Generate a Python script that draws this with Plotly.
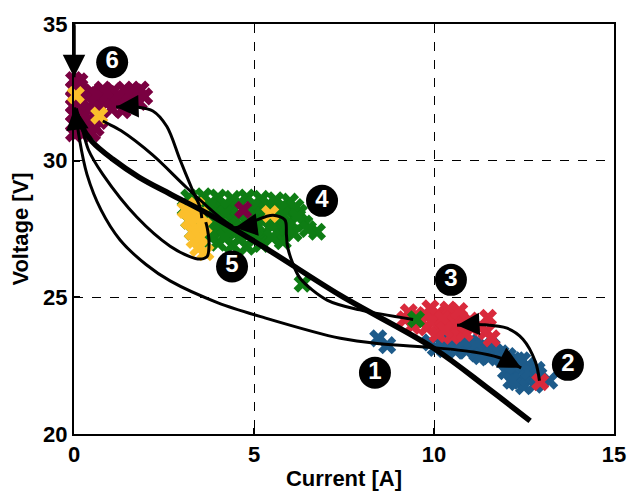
import plotly.graph_objects as go

# ---------------- data (Current [A], Voltage [V]) ----------------
blue_I = [8.45, 8.7, 9.9, 10.2, 10.5, 10.7, 11.0, 10.9, 11.4, 11.7, 11.5, 11.9, 12.1, 12.3,
          12.0, 12.2, 12.4, 12.6, 12.3, 12.5, 12.7, 12.8, 12.6, 13.2, 12.85, 10.3, 11.2,
          10.05, 10.6, 11.15, 11.6, 11.85, 12.05, 12.45, 12.65, 12.15, 12.9, 11.3, 10.8]
blue_V = [23.5, 23.25, 23.35, 23.3, 23.45, 23.2, 23.35, 23.05, 23.15, 23.0, 22.8, 22.75, 22.55, 22.7,
          22.3, 22.2, 22.35, 22.5, 21.9, 21.75, 22.1, 21.8, 22.05, 21.95, 22.35, 23.1, 22.95,
          23.15, 23.05, 23.25, 23.2, 22.95, 22.85, 22.7, 22.3, 21.95, 22.15, 22.85, 23.4]

red_I = [9.2, 9.5, 9.8, 10.1, 10.4, 10.7, 11.0, 9.4, 9.8, 10.2, 10.5, 10.8, 10.1, 10.5,
         9.9, 10.4, 11.5, 11.45, 11.6, 11.3, 10.85, 9.65, 9.95, 10.25, 10.6, 10.9, 9.3, 10.7, 10.3]
red_V = [24.2, 24.35, 24.3, 24.4, 24.3, 24.25, 24.15, 23.95, 23.9, 24.0, 23.9, 23.85, 23.65, 23.6,
         24.6, 24.55, 24.25, 23.75, 23.5, 23.9, 23.7, 24.1, 24.15, 24.2, 24.1, 24.0, 24.45, 24.5, 23.8]

green_I = [3.2, 3.6, 4.0, 4.4, 4.8, 5.2, 5.6, 6.0,
           3.1, 3.5, 3.9, 4.3, 5.1, 5.5, 5.9, 6.25,
           3.2, 3.6, 4.0, 4.4, 4.8, 5.2, 5.6, 6.0, 6.4,
           3.3, 3.7, 4.1, 4.5, 4.9, 5.3, 5.7, 6.1,
           3.6, 4.0, 4.4, 4.8, 5.2, 5.8, 6.75, 6.35,
           3.4, 3.8, 4.2, 4.6, 5.0, 5.4, 5.8, 6.15,
           3.4, 3.8, 4.2, 4.6, 5.0, 5.4, 5.8, 6.2,
           3.5, 3.9, 4.3, 4.7, 5.1, 5.5, 5.9, 6.5,
           3.8, 4.2, 4.6, 5.0, 5.5]
green_V = [28.65, 28.7, 28.65, 28.6, 28.65, 28.6, 28.55, 28.5,
           28.25, 28.2, 28.25, 28.2, 28.25, 28.2, 28.2, 28.1,
           27.8, 27.8, 27.85, 27.8, 27.8, 27.85, 27.8, 27.75, 27.7,
           27.4, 27.4, 27.45, 27.4, 27.4, 27.35, 27.4, 27.35,
           27.05, 27.0, 26.9, 26.85, 26.95, 27.05, 27.4, 25.5,
           28.45, 28.45, 28.4, 28.45, 28.4, 28.4, 28.35, 28.3,
           28.0, 28.0, 28.05, 28.0, 28.0, 28.05, 28.0, 27.95,
           27.6, 27.6, 27.6, 27.55, 27.6, 27.6, 27.55, 27.5,
           27.2, 27.2, 27.15, 27.15, 27.2]

maroon_I = [0.0, 0.0, 0.0, 0.0, 0.0, 0.0, 0.0, 0.15, 0.15, 0.15, 0.15, 0.15, 0.15, 0.15,
            0.5, 0.8, 1.1, 1.4, 1.7, 1.95, 0.6, 0.9, 1.2, 1.5, 1.8,
            0.45, 0.75, 1.05, 1.35, 0.45, 0.6, 0.5,
            0.35, 0.65, 0.95, 1.25, 1.55, 1.85, 0.55, 0.7, 0.4]
maroon_V = [31.0, 31.35, 31.7, 32.0, 32.3, 32.6, 32.95, 31.1, 31.45, 31.8, 32.1, 32.4, 32.7, 32.9,
            32.5, 32.6, 32.55, 32.6, 32.5, 32.35, 32.2, 32.2, 32.3, 32.25, 32.15,
            31.9, 31.9, 31.9, 31.85, 31.5, 31.2, 31.0,
            32.35, 32.4, 32.45, 32.4, 32.45, 32.6, 31.7, 31.45, 31.3]

yellow_I = [3.1, 3.2, 3.3, 3.35, 3.5, 3.6, 3.5, 3.4, 3.45, 3.65, 5.45, 0.05, 0.7]
yellow_V = [28.2, 27.8, 27.4, 27.1, 28.0, 27.6, 27.2, 28.35, 26.8, 26.65, 28.05, 32.4, 31.65]

# single markers drawn on top of other clusters
over_maroon_I, over_maroon_V = [4.7], [28.2]
over_green_I, over_green_V = [9.5], [24.2]
over_red_I, over_red_V = [12.95], [21.9]

# thick reference curve
thick_I = [0.03, 0.17, 0.5, 1.08, 1.8, 2.67, 3.8, 5.44, 7.4, 10.0, 11.47, 12.67]
thick_V = [31.9, 31.36, 30.7, 30.05, 29.4, 28.78, 28.0, 26.7, 25.07, 23.13, 21.7, 20.48]

# trajectories (the last point of each is the arrow tip)
traj_1_I = [0.05, 0.15, 0.36, 0.75, 1.28, 2.0, 2.67, 4.0, 5.3, 7.4, 8.5, 10.0, 11.1, 11.8, 12.2, 12.42]
traj_1_V = [31.8, 30.8, 29.5, 28.2, 27.1, 26.2, 25.6, 24.8, 24.25, 23.5, 23.3, 23.16, 23.0, 22.8, 22.57, 22.42]

traj_2_I = [12.93, 12.82, 12.47, 12.03, 11.36, 10.9, 10.64]
traj_2_V = [21.95, 22.63, 23.47, 23.87, 24.0, 24.0, 23.98]

traj_3a_I = [9.42, 7.94, 7.03, 6.28, 6.06, 5.95, 5.92]
traj_3a_V = [24.19, 24.54, 24.9, 25.7, 26.3, 26.75, 26.95]

traj_3b_I = [5.92, 5.9, 5.86, 5.53, 5.08, 4.75, 4.47]
traj_3b_V = [26.95, 27.3, 27.83, 28.0, 27.83, 27.6, 27.55]

traj_5_I = [0.1, 0.17, 0.4, 0.8, 1.75, 2.67, 3.2, 3.5, 3.7, 3.75, 3.7, 3.66]
traj_5_V = [31.7, 31.47, 30.4, 29.5, 27.93, 26.87, 26.5, 26.4, 26.5, 27.0, 27.55, 27.75]

traj_g_I = [4.4, 4.14, 3.14, 2.19, 1.3, 0.95, 0.8]
traj_g_V = [27.6, 27.83, 29.0, 30.2, 31.1, 31.35, 31.45]

traj_loop_I = [3.55, 3.5, 3.3, 2.94, 2.58, 2.19, 1.75, 1.4, 1.17]
traj_loop_V = [27.9, 28.3, 28.9, 30.05, 31.25, 31.82, 31.96, 31.97, 31.96]

traj_top_I = [0.0, 0.0]
traj_top_V = [35.0, 33.05]

traj_up_I = [0.09, 0.02]
traj_up_V = [31.2, 31.95]

label_I = [8.36, 13.72, 10.47, 6.89, 4.39, 1.06]
label_V = [22.24, 22.53, 25.64, 28.53, 26.13, 33.6]
label_text = ["1", "2", "3", "4", "5", "6"]

x_ticks = [0, 5, 10, 15]
y_ticks = [20, 25, 30, 35]

# ---------------- figure ----------------
BLUE = "#1d5b8a"
RED = "#d92a3c"
GREEN = "#0e7d14"
YELLOW = "#fbbf2c"
MAROON = "#7a0041"

fig = go.Figure()

def xs(I, V, color):
    fig.add_trace(go.Scatter(x=I, y=V, mode="markers", cliponaxis=False,
                             marker=dict(symbol="x", size=16, color=color, line=dict(width=0)),
                             showlegend=False, hoverinfo="skip"))

xs(blue_I, blue_V, BLUE)
xs(red_I, red_V, RED)
xs(green_I, green_V, GREEN)
xs(maroon_I, maroon_V, MAROON)
xs(yellow_I, yellow_V, YELLOW)
xs(over_maroon_I, over_maroon_V, MAROON)
xs(over_green_I, over_green_V, GREEN)
xs(over_red_I, over_red_V, RED)

fig.add_trace(go.Scatter(x=thick_I, y=thick_V, mode="lines", line=dict(color="black", width=5.5, shape="spline"),
                         showlegend=False, hoverinfo="skip"))

trajs = [(traj_1_I, traj_1_V), (traj_2_I, traj_2_V), (traj_3a_I, traj_3a_V), (traj_3b_I, traj_3b_V),
         (traj_5_I, traj_5_V), (traj_g_I, traj_g_V), (traj_loop_I, traj_loop_V),
         (traj_top_I, traj_top_V), (traj_up_I, traj_up_V)]
for I, V in trajs:
    fig.add_trace(go.Scatter(x=I, y=V, mode="lines", cliponaxis=False,
                             line=dict(color="black", width=3, shape="spline", smoothing=0.9),
                             showlegend=False, hoverinfo="skip"))
    fig.add_annotation(x=I[-1], y=V[-1], ax=I[-2], ay=V[-2], xref="x", yref="y", axref="x", ayref="y",
                       text="", showarrow=True, arrowhead=2, arrowsize=1.5, arrowwidth=3,
                       arrowcolor="black", standoff=0)

fig.add_trace(go.Scatter(x=label_I, y=label_V, mode="markers+text", text=label_text, cliponaxis=False,
                         textposition="middle center",
                         textfont=dict(family="Liberation Sans", size=24, color="white", weight="bold"),
                         marker=dict(symbol="circle", size=32, color="black"),
                         showlegend=False, hoverinfo="skip"))

axis_common = dict(showline=True, mirror=True, linecolor="black", linewidth=2,
                   showgrid=True, gridcolor="black", griddash="dash", gridwidth=1.3,
                   zeroline=False, ticks="inside", ticklen=6, tickwidth=2, tickcolor="black",
                   tickfont=dict(family="Liberation Sans", size=22, color="black", weight="bold"))

fig.update_xaxes(range=[0, 15], tickvals=x_ticks, **axis_common,
                 title=dict(text="Current [A]", standoff=4,
                            font=dict(family="Liberation Sans", size=22, color="black", weight="bold")))
fig.update_yaxes(range=[20, 35], tickvals=y_ticks, **axis_common,
                 title=dict(text="Voltage [V]", standoff=8,
                            font=dict(family="Liberation Sans", size=22, color="black", weight="bold")))

fig.update_layout(width=641, height=499, margin=dict(l=74, r=27, t=17, b=58),
                  plot_bgcolor="white", paper_bgcolor="white")

fig.write_html("out.html")
